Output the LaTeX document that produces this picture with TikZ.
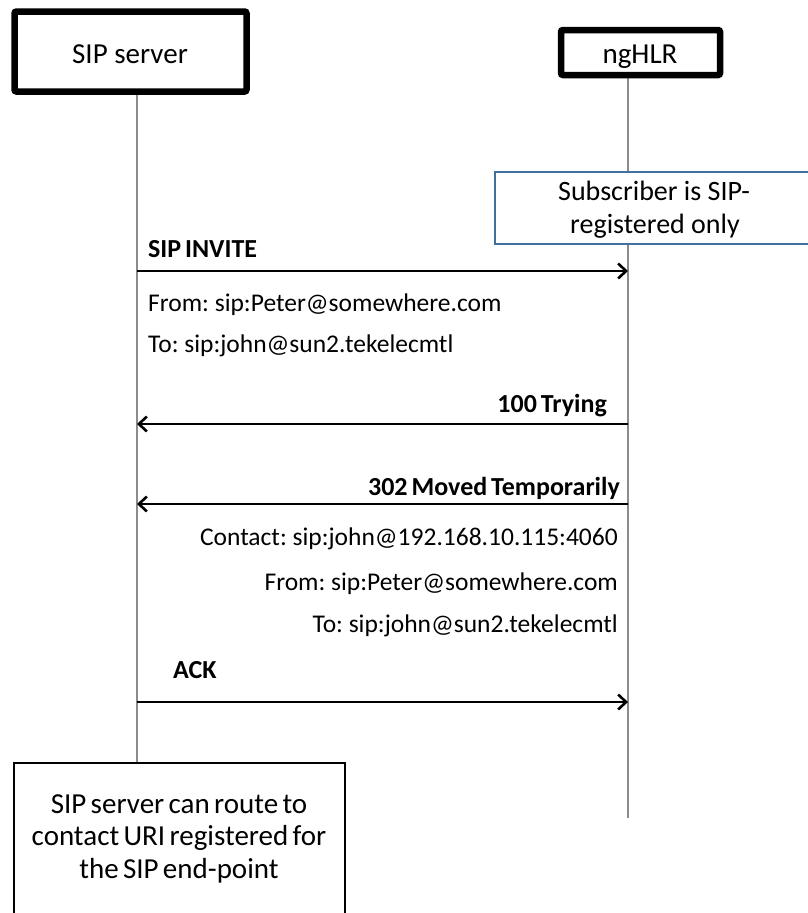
\documentclass[tikz,border=0pt]{standalone}
\usepackage{fontspec}
\setmainfont{Carlito}
\usetikzlibrary{arrows.meta}
\definecolor{lifegray}{RGB}{140,140,140}
\definecolor{noteblue}{RGB}{65,113,156}
\newcommand{\tightsp}{\spaceskip=0.15em plus 0.05em\relax}
\tikzset{
  actorbox/.style={draw=black, line width=6.5pt, rounded corners=2pt, fill=white},
  lifeline/.style={draw=lifegray, line width=2pt},
  msg/.style={draw=black, line width=2.6pt, -{Straight Barb[length=8pt,width=15pt,line width=2.6pt]}},
  bigtxt/.style={font=\fontsize{29}{33}\selectfont, inner sep=0pt, anchor=base},
  notetxt/.style={font=\fontsize{28}{33}\selectfont, inner sep=0pt, anchor=base},
  bottxt/.style={font=\fontsize{29}{33}\selectfont\tightsp, inner sep=0pt, anchor=base},
  lbl/.style={font=\fontsize{26}{30}\selectfont\bfseries\tightsp, inner sep=0pt},
  hdr/.style={font=\fontsize{25.5}{30}\selectfont\tightsp, inner sep=0pt}
}
\begin{document}
\begin{tikzpicture}[x=1pt,y=-1pt]
\useasboundingbox (0,0) rectangle (808,913);
\clip (0,0) rectangle (808,913);
\fill[white] (0,0) rectangle (808,913);
% lifelines
\coordinate (sTop) at (137,92);
\coordinate (sBot) at (137,763);
\coordinate (hTop) at (628,75);
\coordinate (hBot) at (628,818);
\draw[lifeline] (sTop) -- (sBot);
\draw[lifeline] (hTop) -- (hBot);
% actor boxes
\draw[actorbox] (14.5,11.5) rectangle (246.5,91.5);
\node[bigtxt] (sip) at (130,63) {SIP server};
\draw[actorbox] (561,30) rectangle (720,75);
\node[bigtxt] (hlr) at (640,63) {ngHLR};
% subscriber note
\draw[noteblue, line width=2pt, fill=white] (495,172) rectangle (830,244);
\node[notetxt] (sub1) at (654,200) {Subscriber is SIP-};
\node[notetxt] (sub2) at (655,233) {registered only};
% messages
\coordinate (s1) at (137,271); \coordinate (h1) at (628,271);
\coordinate (s2) at (137,424); \coordinate (h2) at (628,424);
\coordinate (s3) at (137,504); \coordinate (h3) at (628,504);
\coordinate (s4) at (137,702); \coordinate (h4) at (628,702);
\draw[msg] (s1) -- (h1);
\draw[msg] (h2) -- (s2);
\draw[msg] (h3) -- (s3);
\draw[msg] (s4) -- (h4);
\node[lbl, anchor=base west] (m1) at (148,257) {SIP INVITE};
\node[hdr, anchor=base west] (f1) at (148,311) {From: sip:Peter@somewhere.com};
\node[hdr, anchor=base west] (t1) at (148,352) {To: sip:john@sun2.tekelecmtl};
\node[lbl, anchor=base east] (m2) at (607,412) {100 Trying};
\node[lbl, anchor=base east] (m3) at (620,495) {302 Moved Temporarily};
\node[hdr, anchor=base east] (c3) at (618,545) {Contact: sip:john@192.168.10.115:4060};
\node[hdr, anchor=base east] (f3) at (618,590) {From: sip:Peter@somewhere.com};
\node[hdr, anchor=base east] (t3) at (618,632) {To: sip:john@sun2.tekelecmtl};
\node[lbl, anchor=base west] (m4) at (173,678) {ACK};
% bottom note
\draw[black, line width=2pt, fill=white] (14,763) rectangle (345,940);
\node[bottxt] (b1) at (179,813) {SIP server can route to};
\node[bottxt] (b2) at (179,845) {contact URI registered for};
\node[bottxt] (b3) at (179,878) {the SIP end-point};
\end{tikzpicture}
\end{document}
